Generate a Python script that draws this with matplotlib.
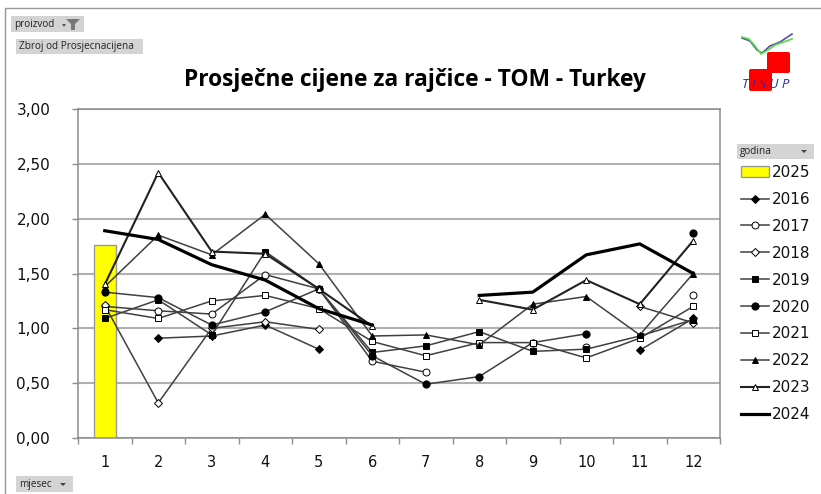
import numpy as np
import matplotlib
matplotlib.use("Agg")
import matplotlib.pyplot as plt
from matplotlib.patches import Rectangle, FancyBboxPatch

nan = np.nan
months = list(range(1, 13))
y_ticks = [0, 0.5, 1, 1.5, 2, 2.5, 3]
y_labels = ["0,00", "0,50", "1,00", "1,50", "2,00", "2,50", "3,00"]

bar_2025 = 1.76
y2016 = [nan, 0.91, 0.93, 1.03, 0.81, nan, nan, nan, nan, nan, 0.80, 1.09]
y2017 = [1.20, 1.16, 1.13, 1.49, 1.36, 0.70, 0.60, nan, nan, 0.83, nan, 1.30]
y2018 = [1.21, 0.32, 1.00, 1.06, 0.99, nan, nan, nan, nan, nan, 1.20, 1.05]
y2019 = [1.09, 1.26, 0.94, 1.70, 1.36, 0.78, 0.84, 0.97, 0.79, 0.81, 0.93, 1.08]
y2020 = [1.33, 1.28, 1.03, 1.15, 1.36, 0.75, 0.49, 0.56, 0.87, 0.95, nan, 1.87]
y2021 = [1.17, 1.09, 1.25, 1.30, 1.18, 0.88, 0.75, 0.87, 0.87, 0.73, 0.91, 1.20]
y2022 = [1.38, 1.85, 1.67, 2.04, 1.59, 0.93, 0.94, 0.85, 1.22, 1.29, 0.94, 1.50]
y2023 = [1.40, 2.42, 1.70, 1.68, 1.36, 1.02, nan, 1.26, 1.17, 1.44, 1.22, 1.80]
y2024 = [1.89, 1.81, 1.58, 1.44, 1.18, 1.03, nan, 1.30, 1.33, 1.67, 1.77, 1.50]

W, H = 821, 494
fig = plt.figure(figsize=(W / 100, H / 100), dpi=100)
ax = fig.add_axes([78 / W, 1 - 438 / H, 642 / W, 329 / H])

GRID = "#b0b0b0"
AXIS = "#8c8c8c"
LINE = "#404040"

bars = ax.bar(months, [bar_2025] + [nan] * 11, width=0.405, color="#ffff00",
              edgecolor="#9a9a9a", linewidth=1, zorder=2, label="2025")


def line(vals, marker, face, label, lw=1.1, color=LINE, ms=4.5):
    # connect only neighbouring months, gaps stay open like in the excel chart
    h, = ax.plot(months, vals, color=color, lw=lw, marker=marker, ms=ms,
                 mfc=face, mec="black", mew=0.7, label=label, zorder=3)
    return h


handles = [bars]
handles.append(line(y2016, "D", "black", "2016", ms=3.8))
handles.append(line(y2017, "o", "white", "2017", ms=5))
handles.append(line(y2018, "D", "white", "2018", ms=3.8))
handles.append(line(y2019, "s", "black", "2019", ms=4.2))
handles.append(line(y2020, "o", "black", "2020", ms=5.2))
handles.append(line(y2021, "s", "white", "2021", ms=4.2))
handles.append(line(y2022, "^", "black", "2022", ms=4.2))
handles.append(line(y2023, "^", "white", "2023", lw=1.5, color="#222222", ms=4.2))
handles.append(ax.plot(months, y2024, color="black", lw=2.3, label="2024", zorder=4)[0])

ax.set_xlim(0.5, 12.5)
ax.set_ylim(0, 3)
ax.set_yticks(y_ticks)
ax.set_yticklabels(y_labels, fontsize=11, color="#111111")
ax.set_xticks(months)
ax.set_xticklabels(months, fontsize=10.5, color="#111111")
ax.set_xticks(np.arange(0.5, 13), minor=True)
ax.tick_params(axis="x", which="major", length=0, pad=12)
ax.tick_params(axis="x", which="minor", length=4, color=AXIS, width=1)
ax.tick_params(axis="y", length=4, color=AXIS, width=1, pad=16)
ax.yaxis.grid(True, color=GRID, lw=1.5, zorder=0)
ax.set_axisbelow(True)
for s in ax.spines.values():
    s.set_color(AXIS)
    s.set_linewidth(1.1)

leg = fig.legend(handles=handles, loc="upper left",
                 bbox_to_anchor=(741 / W, 1 - 165 / H), frameon=False,
                 prop={"size": 11}, labelspacing=0.78, handlelength=1.8,
                 handletextpad=0.2, borderpad=0, borderaxespad=0)
for t in leg.get_texts():
    t.set_color("#111111")

# title and pivot buttons sit in a full figure overlay, coordinates in pixels
ov = fig.add_axes([0, 0, 1, 1], zorder=-1)
ov.set_xlim(0, W)
ov.set_ylim(H, 0)
ov.axis("off")

fig.text(415 / W, 1 - 80 / H, "Prosječne cijene za rajčice - TOM - Turkey",
         family="Open Sans", weight="bold", fontsize=16.4, ha="center",
         va="center", color="black")


def button(x, y, w, h, label, size=7.2):
    ov.add_patch(Rectangle((x, y), w, h, fc="#d4d4d4", ec="none"))
    ov.text(x + 3, y + h / 2, label, fontsize=size, va="center", ha="left",
            family="Open Sans", color="#222222")


button(11, 16, 73, 16, "proizvod")
ov.fill([62, 66, 64], [24, 24, 27], color="#555555", lw=0)
ov.fill([66, 80, 75, 75, 71, 71], [19, 19, 24, 30, 30, 24], color="#777777", lw=0)
button(16, 39, 127, 15, "Zbroj od Prosjecnacijena")
button(737, 144, 77, 15, "godina")
ov.fill([801, 807, 804], [150, 150, 153], color="#444444", lw=0)
button(16, 476, 57, 16, "mjesec")
ov.fill([60, 66, 63], [483, 483, 486], color="#444444", lw=0)

# frame of the sheet object
ov.plot([5, 5, W], [H, 8, 8], color="#999999", lw=1)

# logo
ov.add_patch(FancyBboxPatch((749, 69), 23, 22, boxstyle="round,pad=0,rounding_size=2",
                            fc="#ff0000", ec="none"))
ov.add_patch(FancyBboxPatch((767, 52), 23, 21, boxstyle="round,pad=0,rounding_size=2",
                            fc="#ff0000", ec="none"))
ov.plot([742, 750, 757, 762, 770, 780, 792], [38, 41, 50, 53, 46, 42, 34],
        color="#5a4fa8", lw=1.2)
ov.plot([742, 749, 755, 761, 768, 775, 792], [37, 39, 46, 54, 50, 45, 39],
        color="#55dd44", lw=1.2)
ov.text(766, 84, "T I S U P", fontsize=9.5, style="italic", color="#2a2a9a",
        ha="center", va="center", family="Open Sans")

fig.savefig("out.png", dpi=100)
